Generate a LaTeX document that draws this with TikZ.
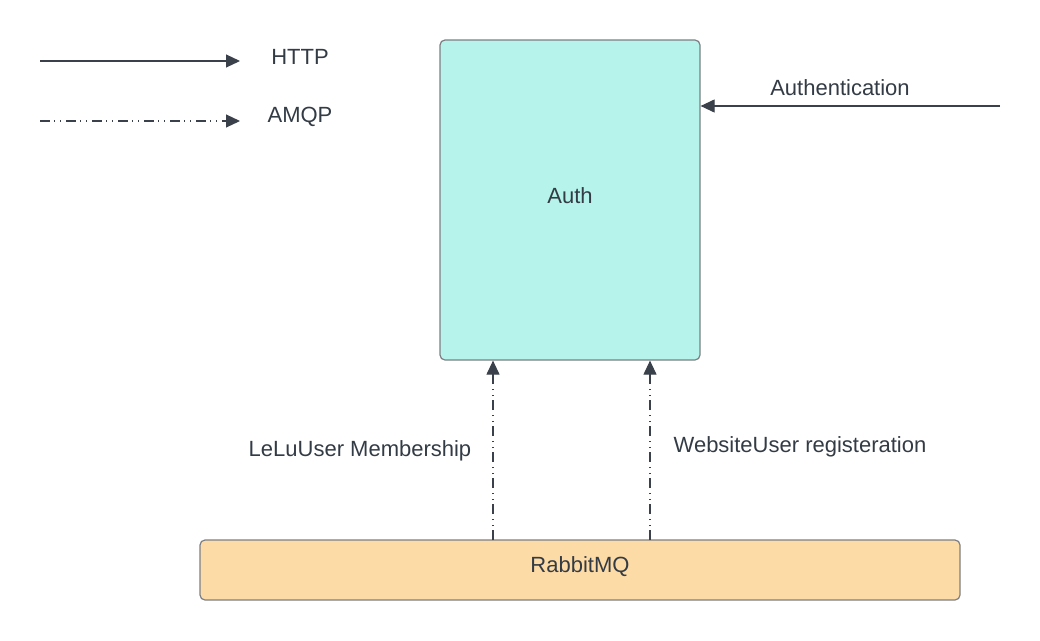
\documentclass[tikz,border=0pt]{standalone}
\usepackage{fontspec}
\setmainfont{Liberation Sans}
\usetikzlibrary{arrows.meta}
\definecolor{ink}{HTML}{3A414A}
\definecolor{txt}{HTML}{333B45}
\definecolor{authfill}{HTML}{B6F3EA}
\definecolor{rabbitfill}{HTML}{FDDBA6}
\definecolor{edge}{HTML}{7C7F84}
\tikzset{
  box/.style={draw=edge, line width=1.2pt, rounded corners=5pt, inner sep=0pt, font=\fontsize{22}{26}\selectfont, text=txt},
  lbl/.style={font=\fontsize{22}{26}\selectfont, text=txt, inner sep=0pt},
  http/.style={draw=ink, line width=1.1pt, -{Triangle[length=14pt,width=13pt]}},
  amqp/.style={draw=ink, line width=1.1pt, dash pattern=on 10pt off 4pt on 1pt off 5pt on 1pt off 5pt, -{Triangle[length=14pt,width=13pt]}},
}
\begin{document}
\begin{tikzpicture}[x=1pt,y=-1pt]
\useasboundingbox (0,0) rectangle (1040,640);
\node[box, fill=authfill, minimum width=260pt, minimum height=320pt] (auth) at (570,200) {};
\node[lbl] (authlbl) at (570,196) {Auth};
\node[box, fill=rabbitfill, minimum width=760pt, minimum height=60pt] (rabbit) at (580,570) {};
\node[lbl] (rabbitlbl) at (580,567) {RabbitMQ};
% legend
\coordinate (h1) at (40,61);
\coordinate (h2) at (240,61);
\coordinate (a1) at (40,121);
\coordinate (a2) at (240,121);
\draw[http] (h1) -- (h2);
\draw[amqp] (a1) -- (a2);
\node[lbl] (httpl) at (300,57) {HTTP};
\node[lbl] (amqpl) at (300,117) {AMQP};
% authentication
\coordinate (ext) at (1000,106);
\draw[http] (ext) -- (auth.east |- ext);
\node[lbl] (authn) at (840,88) {Authentication};
% AMQP links
\coordinate (r1) at (493,540);
\coordinate (r2) at (650,540);
\draw[amqp] (r1) -- (r1 |- auth.south);
\draw[amqp] (r2) -- (r2 |- auth.south);
\node[lbl] (lelu) at (360,451) {LeLuUser Membership};
\node[lbl] (web) at (800,447) {WebsiteUser registeration};
\end{tikzpicture}
\end{document}
